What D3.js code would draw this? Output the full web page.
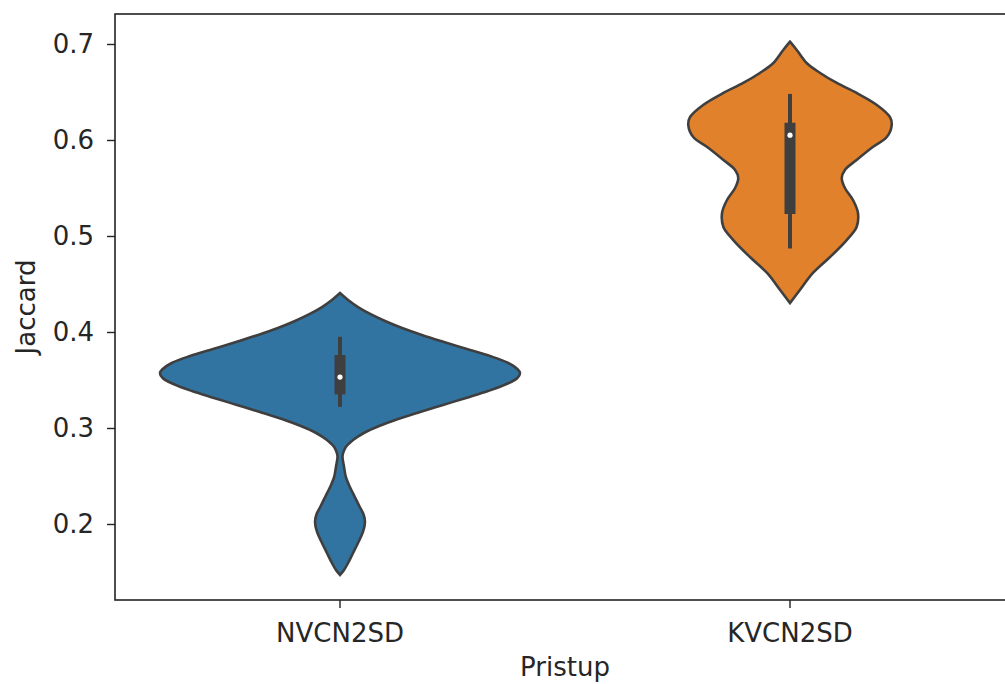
<!DOCTYPE html>
<html>
<head>
<meta charset="utf-8">
<script src="https://cdn.jsdelivr.net/npm/d3@7"></script>
<style>
    body { margin: 0; background: #fff; }
    #chart { width: 1005px; height: 684px; overflow: hidden; }
    text { font-family: "DejaVu Sans", sans-serif; fill: #262626; }
</style>
</head>
<body>
<div id="chart"></div>
<script>

const categories = ["NVCN2SD", "KVCN2SD"];
const colors = ["#3274a1", "#e1812c"];
const yTicks = [0.2, 0.3, 0.4, 0.5, 0.6, 0.7];

// violin outlines: value on y, half-width in category units
const nvProfileY = [0.4406, 0.4333, 0.4260, 0.4188, 0.4115, 0.4042, 0.3969, 0.3896, 0.3823, 0.3750, 0.3677, 0.3615, 0.3573,
    0.3521, 0.3458, 0.3385, 0.3313, 0.3240, 0.3167, 0.3094, 0.3021, 0.2948, 0.2875, 0.2802, 0.2740, 0.2698,
    0.2594, 0.2490, 0.2385, 0.2281, 0.2177, 0.2104, 0.2021, 0.1917, 0.1802, 0.1698, 0.1594, 0.1521, 0.1469];
const nvProfileW = [0, 0.018, 0.040, 0.067, 0.100, 0.138, 0.182, 0.231, 0.282, 0.333, 0.374, 0.394, 0.400,
    0.394, 0.370, 0.329, 0.280, 0.229, 0.178, 0.129, 0.087, 0.053, 0.029, 0.013, 0.007, 0.0055,
    0.009, 0.013, 0.022, 0.033, 0.044, 0.052, 0.0555, 0.051, 0.040, 0.029, 0.018, 0.009, 0];
const kvProfileY = [0.7024, 0.6938, 0.6802, 0.6698, 0.6594, 0.6490, 0.6365, 0.6240, 0.6156, 0.6031, 0.5927, 0.5792,
    0.5688, 0.5604, 0.5500, 0.5375, 0.5240, 0.5094, 0.4958, 0.4781, 0.4615, 0.4438, 0.4302];
const kvProfileW = [0, 0.015, 0.037, 0.067, 0.104, 0.148, 0.193, 0.222, 0.226, 0.215, 0.184, 0.148,
    0.122, 0.115, 0.122, 0.140, 0.151, 0.148, 0.126, 0.089, 0.051, 0.022, 0];

// inner box: whisker low, q1, median, q3, whisker high
const nvBox = [0.322, 0.335, 0.353, 0.376, 0.395];
const kvBox = [0.487, 0.523, 0.605, 0.618, 0.648];


class ViolinChart {

    constructor(parentElement, data) {
        this.parentElement = parentElement;
        this.data = data;

        this.initVis();
    }

    initVis() {
        let vis = this;

        vis.margin = {top: 14, right: 0, bottom: 84, left: 115};
        vis.width = 900;
        vis.height = 684 - vis.margin.top - vis.margin.bottom;

        vis.svg = d3.select("#" + vis.parentElement).append("svg")
            .attr("width", 1005)
            .attr("height", 684)
            .append("g")
            .attr("transform", `translate (${vis.margin.left}, ${vis.margin.top})`);

        // Scales
        vis.x = d3.scaleBand()
            .domain(categories)
            .range([0, vis.width]);
        vis.y = d3.scaleLinear()
            .domain([0.12083, 0.73125])
            .range([vis.height, 0]);

        vis.wrangleData();
    }

    wrangleData() {
        let vis = this;

        vis.violins = vis.data.map((d) => ({
            name: d.name,
            color: d.color,
            box: d.box,
            points: d.profileY.map((v, i) => ({v: v, w: d.profileW[i]}))
        }));

        vis.updateVis();
    }

    updateVis() {
        let vis = this;
        let bw = vis.x.bandwidth();
        let cx = (d) => vis.x(d.name) + bw / 2;

        // Violin bodies
        vis.svg.selectAll(".violin")
            .data(vis.violins)
            .enter()
            .append("path")
            .attr("class", "violin")
            .attr("fill", (d) => d.color)
            .attr("stroke", "#3f3f3f")
            .attr("stroke-width", 2.6)
            .attr("d", (d) => d3.area()
                .curve(d3.curveCatmullRom)
                .y((p) => vis.y(p.v))
                .x0((p) => cx(d) - p.w * bw)
                .x1((p) => cx(d) + p.w * bw)(d.points));

        // Whiskers
        vis.svg.selectAll(".whisker")
            .data(vis.violins)
            .enter()
            .append("line")
            .attr("stroke", "#3f3f3f")
            .attr("stroke-width", 4)
            .attr("x1", cx)
            .attr("x2", cx)
            .attr("y1", (d) => vis.y(d.box[0]))
            .attr("y2", (d) => vis.y(d.box[4]));

        // Boxes
        vis.svg.selectAll(".box")
            .data(vis.violins)
            .enter()
            .append("line")
            .attr("stroke", "#3f3f3f")
            .attr("stroke-width", 11)
            .attr("x1", cx)
            .attr("x2", cx)
            .attr("y1", (d) => vis.y(d.box[1]))
            .attr("y2", (d) => vis.y(d.box[3]));

        // Medians
        vis.svg.selectAll(".median")
            .data(vis.violins)
            .enter()
            .append("circle")
            .attr("fill", "#fff")
            .attr("cx", cx)
            .attr("cy", (d) => vis.y(d.box[2]))
            .attr("r", 2.6);

        // Axes
        vis.svg.append("g")
            .attr("transform", `translate(0, ${vis.height})`)
            .call(d3.axisBottom(vis.x).tickSize(8).tickSizeOuter(0).tickPadding(16))
            .call((g) => g.select(".domain").remove())
            .call((g) => g.selectAll("line").attr("stroke", "#222").attr("stroke-width", 1.4))
            .call((g) => g.selectAll("text").attr("font-size", 26).attr("fill", "#262626"));

        vis.svg.append("g")
            .call(d3.axisLeft(vis.y).tickValues(yTicks).tickFormat(d3.format(".1f")).tickSize(8).tickSizeOuter(0).tickPadding(13))
            .call((g) => g.select(".domain").remove())
            .call((g) => g.selectAll("line").attr("stroke", "#222").attr("stroke-width", 1.4))
            .call((g) => g.selectAll("text").attr("font-size", 26).attr("fill", "#262626"));

        // Frame
        vis.svg.append("rect")
            .attr("width", vis.width)
            .attr("height", vis.height)
            .attr("fill", "none")
            .attr("stroke", "#222")
            .attr("stroke-width", 1.6);

        // Axis titles
        vis.svg.append("text")
            .attr("x", vis.width / 2)
            .attr("y", vis.height + 76)
            .attr("text-anchor", "middle")
            .attr("font-size", 26)
            .text("Pristup");

        vis.svg.append("text")
            .attr("transform", `translate(${-vis.margin.left + 35}, ${vis.height / 2}) rotate(-90)`)
            .attr("text-anchor", "middle")
            .attr("font-size", 26)
            .text("Jaccard");
    }
}

new ViolinChart("chart", [
    {name: categories[0], color: colors[0], box: nvBox, profileY: nvProfileY, profileW: nvProfileW},
    {name: categories[1], color: colors[1], box: kvBox, profileY: kvProfileY, profileW: kvProfileW}
]);

</script>
</body>
</html>
